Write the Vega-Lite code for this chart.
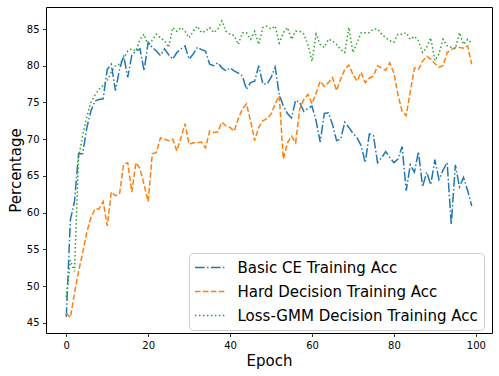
{
  "$schema": "https://vega.github.io/schema/vega-lite/v6.json",
  "width": 446,
  "height": 326,
  "autosize": {"type": "none"},
  "padding": {"left": 46, "top": 7, "right": 7, "bottom": 43},
  "background": "white",
  "config": {
    "font": "DejaVu Sans",
    "view": {"stroke": "#000", "strokeWidth": 1},
    "axis": {
      "grid": false,
      "domain": false,
      "tickColor": "#000",
      "tickSize": 3.5,
      "tickWidth": 0.8,
      "labelFontSize": 10,
      "labelColor": "#000",
      "labelPadding": 3.5,
      "titleFontSize": 15,
      "titleFontWeight": "normal",
      "titleColor": "#000"
    }
  },
  "data": {
    "values": [
      {"epoch": 0, "basic": 45.8, "hard": 46.3, "gmm": 48.5},
      {"epoch": 1, "basic": 59.0, "hard": 45.7, "gmm": 53.5},
      {"epoch": 2, "basic": 61.5, "hard": 49.0, "gmm": 52.0},
      {"epoch": 3, "basic": 68.0, "hard": 52.0, "gmm": 67.5},
      {"epoch": 4, "basic": 68.0, "hard": 54.5, "gmm": 70.5},
      {"epoch": 5, "basic": 71.5, "hard": 57.3, "gmm": 73.0},
      {"epoch": 6, "basic": 73.8, "hard": 59.3, "gmm": 75.0},
      {"epoch": 7, "basic": 75.2, "hard": 60.5, "gmm": 76.0},
      {"epoch": 8, "basic": 75.4, "hard": 60.5, "gmm": 76.8},
      {"epoch": 9, "basic": 75.5, "hard": 61.5, "gmm": 77.3},
      {"epoch": 10, "basic": 79.5, "hard": 58.2, "gmm": 78.0},
      {"epoch": 11, "basic": 80.2, "hard": 62.8, "gmm": 79.1},
      {"epoch": 12, "basic": 76.6, "hard": 62.3, "gmm": 80.0},
      {"epoch": 13, "basic": 79.5, "hard": 62.5, "gmm": 80.2},
      {"epoch": 14, "basic": 81.4, "hard": 66.6, "gmm": 81.0},
      {"epoch": 15, "basic": 78.4, "hard": 66.8, "gmm": 82.0},
      {"epoch": 16, "basic": 81.4, "hard": 62.8, "gmm": 82.3},
      {"epoch": 17, "basic": 82.0, "hard": 66.8, "gmm": 82.0},
      {"epoch": 18, "basic": 82.3, "hard": 66.0, "gmm": 83.6},
      {"epoch": 19, "basic": 79.3, "hard": 63.8, "gmm": 84.3},
      {"epoch": 20, "basic": 83.2, "hard": 61.5, "gmm": 82.7},
      {"epoch": 21, "basic": 82.5, "hard": 68.0, "gmm": 83.5},
      {"epoch": 22, "basic": 82.0, "hard": 68.2, "gmm": 84.3},
      {"epoch": 23, "basic": 81.4, "hard": 70.2, "gmm": 83.8},
      {"epoch": 24, "basic": 82.3, "hard": 70.0, "gmm": 83.4},
      {"epoch": 25, "basic": 81.5, "hard": 69.8, "gmm": 82.5},
      {"epoch": 26, "basic": 80.9, "hard": 70.0, "gmm": 85.2},
      {"epoch": 27, "basic": 81.8, "hard": 68.4, "gmm": 84.7},
      {"epoch": 28, "basic": 82.3, "hard": 70.2, "gmm": 85.2},
      {"epoch": 29, "basic": 82.7, "hard": 72.1, "gmm": 84.7},
      {"epoch": 30, "basic": 80.9, "hard": 69.3, "gmm": 83.8},
      {"epoch": 31, "basic": 81.6, "hard": 69.5, "gmm": 84.7},
      {"epoch": 32, "basic": 82.5, "hard": 69.5, "gmm": 85.4},
      {"epoch": 33, "basic": 82.2, "hard": 69.6, "gmm": 84.5},
      {"epoch": 34, "basic": 82.0, "hard": 68.8, "gmm": 84.7},
      {"epoch": 35, "basic": 80.2, "hard": 71.1, "gmm": 85.2},
      {"epoch": 36, "basic": 80.0, "hard": 70.9, "gmm": 84.5},
      {"epoch": 37, "basic": 80.4, "hard": 71.0, "gmm": 85.0},
      {"epoch": 38, "basic": 79.7, "hard": 72.3, "gmm": 86.1},
      {"epoch": 39, "basic": 79.3, "hard": 71.8, "gmm": 84.7},
      {"epoch": 40, "basic": 79.7, "hard": 71.6, "gmm": 84.3},
      {"epoch": 41, "basic": 79.3, "hard": 71.1, "gmm": 84.1},
      {"epoch": 42, "basic": 79.0, "hard": 72.8, "gmm": 82.9},
      {"epoch": 43, "basic": 78.6, "hard": 74.1, "gmm": 84.5},
      {"epoch": 44, "basic": 76.8, "hard": 74.8, "gmm": 84.5},
      {"epoch": 45, "basic": 77.7, "hard": 72.5, "gmm": 83.6},
      {"epoch": 46, "basic": 77.9, "hard": 69.8, "gmm": 84.7},
      {"epoch": 47, "basic": 80.0, "hard": 71.6, "gmm": 82.9},
      {"epoch": 48, "basic": 77.5, "hard": 72.5, "gmm": 85.2},
      {"epoch": 49, "basic": 77.5, "hard": 72.8, "gmm": 85.4},
      {"epoch": 50, "basic": 78.4, "hard": 73.4, "gmm": 85.0},
      {"epoch": 51, "basic": 79.8, "hard": 74.8, "gmm": 85.4},
      {"epoch": 52, "basic": 76.1, "hard": 75.9, "gmm": 83.1},
      {"epoch": 53, "basic": 74.5, "hard": 67.3, "gmm": 84.5},
      {"epoch": 54, "basic": 73.5, "hard": 69.5, "gmm": 85.2},
      {"epoch": 55, "basic": 72.9, "hard": 70.4, "gmm": 83.6},
      {"epoch": 56, "basic": 75.3, "hard": 69.5, "gmm": 84.7},
      {"epoch": 57, "basic": 75.0, "hard": 74.1, "gmm": 84.7},
      {"epoch": 58, "basic": 73.8, "hard": 75.4, "gmm": 84.3},
      {"epoch": 59, "basic": 74.2, "hard": 76.1, "gmm": 82.9},
      {"epoch": 60, "basic": 74.5, "hard": 74.8, "gmm": 80.6},
      {"epoch": 61, "basic": 72.5, "hard": 76.3, "gmm": 84.3},
      {"epoch": 62, "basic": 69.6, "hard": 77.9, "gmm": 82.9},
      {"epoch": 63, "basic": 73.5, "hard": 77.2, "gmm": 82.5},
      {"epoch": 64, "basic": 73.6, "hard": 77.7, "gmm": 83.6},
      {"epoch": 65, "basic": 72.0, "hard": 78.4, "gmm": 83.4},
      {"epoch": 66, "basic": 69.8, "hard": 76.6, "gmm": 82.9},
      {"epoch": 67, "basic": 70.0, "hard": 78.2, "gmm": 82.2},
      {"epoch": 68, "basic": 72.3, "hard": 79.5, "gmm": 81.8},
      {"epoch": 69, "basic": 71.6, "hard": 80.1, "gmm": 85.2},
      {"epoch": 70, "basic": 70.8, "hard": 78.8, "gmm": 81.8},
      {"epoch": 71, "basic": 70.2, "hard": 77.9, "gmm": 83.1},
      {"epoch": 72, "basic": 69.1, "hard": 79.1, "gmm": 84.5},
      {"epoch": 73, "basic": 66.8, "hard": 77.7, "gmm": 84.5},
      {"epoch": 74, "basic": 70.7, "hard": 78.3, "gmm": 84.5},
      {"epoch": 75, "basic": 70.5, "hard": 78.6, "gmm": 85.0},
      {"epoch": 76, "basic": 66.8, "hard": 80.0, "gmm": 85.0},
      {"epoch": 77, "basic": 67.5, "hard": 79.7, "gmm": 84.3},
      {"epoch": 78, "basic": 68.3, "hard": 79.4, "gmm": 83.8},
      {"epoch": 79, "basic": 67.5, "hard": 80.4, "gmm": 83.4},
      {"epoch": 80, "basic": 66.8, "hard": 79.0, "gmm": 83.2},
      {"epoch": 81, "basic": 67.3, "hard": 76.0, "gmm": 84.3},
      {"epoch": 82, "basic": 69.0, "hard": 73.8, "gmm": 84.3},
      {"epoch": 83, "basic": 63.0, "hard": 73.2, "gmm": 84.5},
      {"epoch": 84, "basic": 66.5, "hard": 76.5, "gmm": 83.6},
      {"epoch": 85, "basic": 65.5, "hard": 79.7, "gmm": 84.0},
      {"epoch": 86, "basic": 68.3, "hard": 79.5, "gmm": 83.4},
      {"epoch": 87, "basic": 63.5, "hard": 80.6, "gmm": 81.8},
      {"epoch": 88, "basic": 65.5, "hard": 81.3, "gmm": 82.5},
      {"epoch": 89, "basic": 63.8, "hard": 80.9, "gmm": 83.8},
      {"epoch": 90, "basic": 67.2, "hard": 80.3, "gmm": 80.7},
      {"epoch": 91, "basic": 64.5, "hard": 79.8, "gmm": 81.6},
      {"epoch": 92, "basic": 65.8, "hard": 80.0, "gmm": 83.6},
      {"epoch": 93, "basic": 66.8, "hard": 81.8, "gmm": 82.7},
      {"epoch": 94, "basic": 58.4, "hard": 82.2, "gmm": 82.5},
      {"epoch": 95, "basic": 66.5, "hard": 82.5, "gmm": 82.3},
      {"epoch": 96, "basic": 63.5, "hard": 82.5, "gmm": 84.5},
      {"epoch": 97, "basic": 64.8, "hard": 82.4, "gmm": 82.9},
      {"epoch": 98, "basic": 63.0, "hard": 82.7, "gmm": 83.6},
      {"epoch": 99, "basic": 60.9, "hard": 80.2, "gmm": 83.1}
    ]
  },
  "transform": [{"fold": ["basic", "hard", "gmm"], "as": ["series", "value"]}],
  "mark": {"type": "line", "strokeWidth": 1.5, "strokeCap": "butt"},
  "encoding": {
    "x": {
      "field": "epoch",
      "type": "quantitative",
      "scale": {"domain": [-4.95, 103.95], "nice": false, "zero": false},
      "axis": {"values": [0, 20, 40, 60, 80, 100], "title": "Epoch", "titlePadding": 3}
    },
    "y": {
      "field": "value",
      "type": "quantitative",
      "scale": {"domain": [43.6, 88.0], "nice": false, "zero": false},
      "axis": {"values": [45, 50, 55, 60, 65, 70, 75, 80, 85], "title": "Percentage", "titlePadding": 3}
    },
    "color": {
      "field": "series",
      "type": "nominal",
      "scale": {"domain": ["basic", "hard", "gmm"], "range": ["#1f77b4", "#ff7f0e", "#2ca02c"]},
      "legend": {
        "title": null,
        "orient": "none",
        "legendX": 143,
        "legendY": 246,
        "labelExpr": "datum.label == 'basic' ? 'Basic CE Training Acc' : datum.label == 'hard' ? 'Hard Decision Training Acc' : 'Loss-GMM Decision Training Acc'",
        "labelFontSize": 15,
        "labelColor": "#000",
        "labelLimit": 0,
        "labelOffset": 19,
        "symbolType": "M-2,0H2",
        "symbolSize": 225,
        "symbolOffset": 6.5,
        "symbolStrokeWidth": 1.5,
        "symbolFillColor": "transparent",
        "rowPadding": 7,
        "padding": 6,
        "fillColor": "rgba(255,255,255,0.8)",
        "strokeColor": "#cccccc",
        "cornerRadius": 4
      }
    },
    "strokeDash": {
      "field": "series",
      "type": "nominal",
      "scale": {"domain": ["basic", "hard", "gmm"], "range": [[9.6, 2.4, 1.5, 2.4], [5.55, 2.4], [1.5, 2.475]]},
      "legend": {
        "title": null,
        "orient": "none",
        "legendX": 143,
        "legendY": 246,
        "labelExpr": "datum.label == 'basic' ? 'Basic CE Training Acc' : datum.label == 'hard' ? 'Hard Decision Training Acc' : 'Loss-GMM Decision Training Acc'",
        "labelFontSize": 15,
        "labelColor": "#000",
        "labelLimit": 0,
        "labelOffset": 19,
        "symbolType": "M-2,0H2",
        "symbolSize": 225,
        "symbolOffset": 6.5,
        "symbolStrokeWidth": 1.5,
        "symbolFillColor": "transparent",
        "rowPadding": 7,
        "padding": 6,
        "fillColor": "rgba(255,255,255,0.8)",
        "strokeColor": "#cccccc",
        "cornerRadius": 4
      }
    }
  }
}
